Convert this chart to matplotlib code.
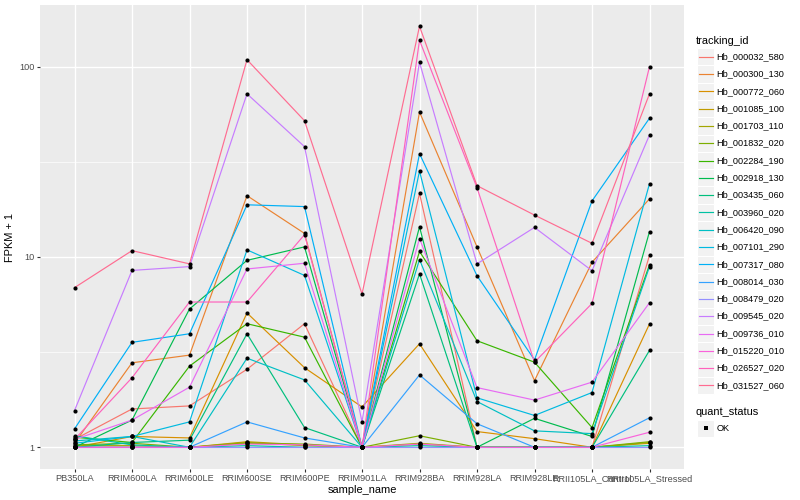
import matplotlib
matplotlib.use("Agg")
import matplotlib.pyplot as plt
from matplotlib.patches import Rectangle
from matplotlib.lines import Line2D
import numpy as np

samples = ["PB350LA", "RRIM600LA", "RRIM600LE", "RRIM600SE", "RRIM600PE",
           "RRIM901LA", "RRIM928BA", "RRIM928LA", "RRIM928LE",
           "RRII105LA_Control", "RRII105LA_Stressed"]

genes = ["Hb_000032_580", "Hb_000300_130", "Hb_000772_060", "Hb_001085_100",
         "Hb_001703_110", "Hb_001832_020", "Hb_002284_190", "Hb_002918_130",
         "Hb_003435_060", "Hb_003960_020", "Hb_006420_090", "Hb_007101_290",
         "Hb_007317_080", "Hb_008014_030", "Hb_008479_020", "Hb_009545_020",
         "Hb_009736_010", "Hb_015220_010", "Hb_026527_020", "Hb_031527_060"]

hb_000032_580 = [1.10, 1.59, 1.65, 2.57, 4.46, 1.00, 21.6, 1.00, 1.00, 1.00, 10.2]
hb_000300_130 = [1.05, 2.78, 3.05, 21.0, 13.3, 1.00, 57.8, 11.3, 2.24, 9.38, 20.2]
hb_000772_060 = [1.00, 1.14, 1.12, 5.08, 2.62, 1.63, 3.50, 1.21, 1.11, 1.00, 4.45]
hb_001085_100 = [1.00, 1.00, 1.00, 1.07, 1.03, 1.00, 1.04, 1.00, 1.00, 1.00, 1.05]
hb_001703_110 = [1.02, 1.02, 1.00, 1.06, 1.02, 1.00, 1.05, 1.00, 1.00, 1.00, 1.06]
hb_001832_020 = [1.03, 1.05, 1.00, 1.05, 1.04, 1.00, 1.15, 1.00, 1.00, 1.00, 1.07]
hb_002284_190 = [1.13, 1.06, 2.67, 4.46, 3.79, 1.00, 10.7, 3.63, 2.80, 1.27, 9.10]
hb_002918_130 = [1.00, 1.39, 5.33, 9.60, 11.3, 1.00, 14.4, 1.00, 1.42, 1.14, 13.6]
hb_003435_060 = [1.00, 1.06, 1.09, 3.95, 1.27, 1.00, 8.15, 1.00, 1.00, 1.00, 3.23]
hb_003960_020 = [1.15, 1.03, 1.00, 1.02, 1.00, 1.00, 1.02, 1.00, 1.00, 1.00, 1.02]
hb_006420_090 = [1.08, 1.14, 1.00, 2.94, 2.26, 1.00, 9.70, 1.74, 1.22, 1.18, 8.90]
hb_007101_290 = [1.05, 1.14, 1.36, 10.9, 8.00, 1.00, 28.3, 1.82, 1.47, 1.94, 24.3]
hb_007317_080 = [1.25, 3.56, 3.95, 18.8, 18.4, 1.00, 34.9, 7.97, 2.88, 19.7, 53.6]
hb_008014_030 = [1.00, 1.00, 1.00, 1.36, 1.12, 1.00, 2.40, 1.33, 1.00, 1.00, 1.43]
hb_008479_020 = [1.00, 1.00, 1.00, 1.00, 1.00, 1.00, 1.00, 1.00, 1.00, 1.00, 1.00]
hb_009545_020 = [1.56, 8.50, 8.90, 72.0, 38.0, 1.36, 105.5, 9.20, 14.3, 8.47, 43.8]
hb_009736_010 = [1.10, 1.39, 2.07, 8.65, 9.27, 1.00, 12.5, 2.06, 1.77, 2.20, 5.75]
hb_015220_010 = [1.00, 1.00, 1.00, 1.04, 1.03, 1.00, 1.04, 1.00, 1.00, 1.00, 1.20]
hb_026527_020 = [1.10, 2.32, 5.80, 5.80, 13.1, 1.00, 137.7, 23.1, 2.80, 5.70, 100.0]
hb_031527_060 = [6.90, 10.8, 9.20, 108.8, 52.0, 6.39, 163.0, 23.7, 16.6, 11.8, 72.0]

series = [hb_000032_580, hb_000300_130, hb_000772_060, hb_001085_100,
          hb_001703_110, hb_001832_020, hb_002284_190, hb_002918_130,
          hb_003435_060, hb_003960_020, hb_006420_090, hb_007101_290,
          hb_007317_080, hb_008014_030, hb_008479_020, hb_009545_020,
          hb_009736_010, hb_015220_010, hb_026527_020, hb_031527_060]

colors = ["#F8766D", "#EA8331", "#D89000", "#C09B00", "#A3A500", "#7CAE00",
          "#39B600", "#00BB4E", "#00BF7D", "#00C1A3", "#00BFC4", "#00BAE0",
          "#00B0F6", "#35A2FF", "#9590FF", "#C77CFF", "#E76BF3", "#FA62DB",
          "#FF62BC", "#FF6C91"]

status = ["OK"]

plt.rcParams['font.family'] = ['Liberation Sans', 'DejaVu Sans']

W, H = 800, 500
fig = plt.figure(figsize=(8, 5), dpi=100)

def fx(px):
    return px / W

def fy(py):
    return 1 - py / H

ax = fig.add_axes([fx(40), fy(469), fx(684) - fx(40), fy(5) - fy(469)])
ax.set_facecolor("#EBEBEB")
for s in ax.spines.values():
    s.set_visible(False)

x = np.arange(len(samples))
for vals, c in zip(series, colors):
    ax.plot(x, vals, color=c, lw=0.85, zorder=3, solid_capstyle="butt")
for vals in series:
    ax.plot(x, vals, ls="none", marker="o", ms=3.0, mew=0, color="black", zorder=4)

ax.set_yscale("log")
ax.set_ylim(10 ** -0.114, 10 ** 2.324)
ax.set_xlim(-0.6, len(samples) - 1 + 0.6)

ax.set_yticks([1, 10, 100])
ax.set_yticklabels(["1", "10", "100"])
ax.yaxis.set_minor_locator(matplotlib.ticker.FixedLocator([10 ** 0.5, 10 ** 1.5]))
ax.yaxis.set_minor_formatter(matplotlib.ticker.NullFormatter())
ax.set_xticks(x)
ax.set_xticklabels(samples)

ax.grid(True, which="major", color="white", lw=1.0, zorder=0)
ax.grid(True, which="minor", axis="y", color="white", lw=0.5, zorder=0)
ax.set_axisbelow(True)

ax.tick_params(axis="both", which="major", length=2.2, width=0.8, color="#333333",
               labelsize=6.6, labelcolor="#4D4D4D", pad=1.6)
ax.tick_params(axis="y", which="minor", length=0)

ax.set_xlabel("sample_name", fontsize=7.9, labelpad=1.5)
ax.set_ylabel("FPKM + 1", fontsize=7.9, labelpad=3)

# legend: tracking_id
fig.text(fx(696), fy(40.7), "tracking_id", fontsize=7.9, va="center", ha="left")
step = 17.3
y0 = 56.7
for i, (g, c) in enumerate(zip(genes, colors)):
    yc = y0 + i * step
    fig.add_artist(Rectangle((fx(697), fy(yc + step / 2)), fx(714) - fx(697),
                             fy(yc - step / 2) - fy(yc + step / 2),
                             transform=fig.transFigure, facecolor="#F2F2F2",
                             edgecolor="white", lw=0.8))
    fig.add_artist(Line2D([fx(698.5), fx(712.5)], [fy(yc), fy(yc)],
                          transform=fig.transFigure, color=c, lw=0.85))
    fig.text(fx(716.7), fy(yc), g, fontsize=6.6, va="center", ha="left")

# legend: quant_status
fig.text(fx(696), fy(411.7), "quant_status", fontsize=7.9, va="center", ha="left")
for j, st in enumerate(status):
    yc = 428.3 + j * step
    fig.add_artist(Rectangle((fx(697), fy(yc + step / 2)), fx(714) - fx(697),
                             fy(yc - step / 2) - fy(yc + step / 2),
                             transform=fig.transFigure, facecolor="#F2F2F2",
                             edgecolor="white", lw=0.8))
    fig.add_artist(Line2D([fx(705.5)], [fy(yc)], transform=fig.transFigure,
                          ls="none", marker="s", ms=2.8, mew=0, color="black"))
    fig.text(fx(716.7), fy(yc), st, fontsize=6.6, va="center", ha="left")

fig.savefig("out.png", dpi=100)
